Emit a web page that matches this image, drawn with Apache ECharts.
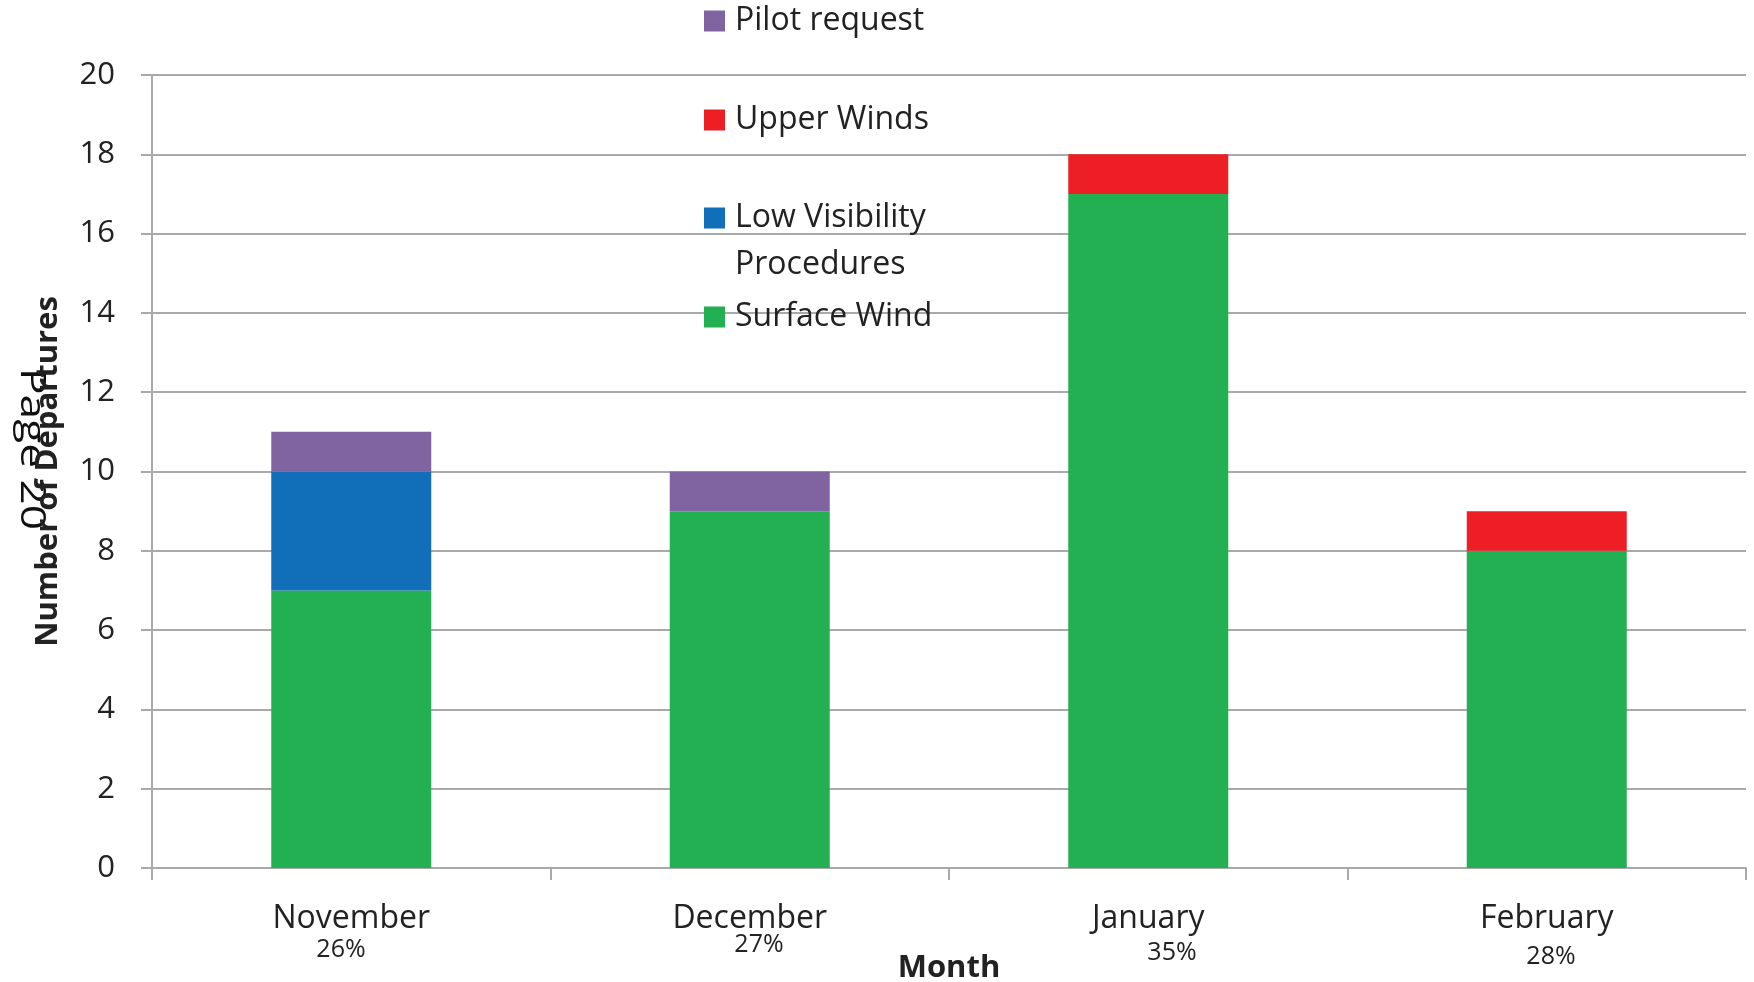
<!DOCTYPE html>
<html>
<head>
<meta charset="utf-8">
<script src="https://cdn.jsdelivr.net/npm/echarts@6/dist/echarts.min.js"></script>
<style>
html,body{margin:0;padding:0;background:#fff;}
#chart{width:1754px;height:982px;}
</style>
</head>
<body>
<div id="chart"></div>
<script>
const categories = ['November', 'December', 'January', 'February'];
const surfaceWind = [7, 9, 17, 8];
const lowVisibility = [3, 0, 0, 0];
const upperWinds = [0, 0, 1, 1];
const pilotRequest = [1, 1, 0, 0];
const percentLabels = ['26%', '27%', '35%', '28%'];
const yMin = 0, yMax = 20, yInterval = 2;

const FONT = 'Open Sans';
const TXT = '#222222';
const GRID = '#a9a9a9';

const chart = echarts.init(document.getElementById('chart'));

function legendItem(name, top, label) {
  return {
    data: [name],
    top: top,
    left: 704,
    orient: 'vertical',
    padding: 0,
    itemWidth: 21,
    itemHeight: 21,
    icon: 'rect',
    selectedMode: false,
    formatter: label ? function () { return label; } : undefined,
    textStyle: { fontSize: 32, color: TXT, fontFamily: FONT, padding: [0, 0, 0, 5], lineHeight: 32 }
  };
}

const pctPos = [[341, 950], [759, 945], [1172, 953], [1551, 957]];

const option = {
  animation: false,
  backgroundColor: '#ffffff',
  grid: { left: 152, right: 8, top: 75, bottom: 114, containLabel: false, outerBoundsMode: 'none' },
  legend: [
    legendItem('Pilot request', 5),
    legendItem('Upper Winds', 104),
    legendItem('Low Visibility Procedures', 202, 'Low Visibility'),
    legendItem('Surface Wind', 301)
  ],
  xAxis: {
    type: 'category',
    data: categories,
    boundaryGap: true,
    axisLine: { lineStyle: { color: GRID, width: 2 } },
    axisTick: { show: true, length: 12, lineStyle: { color: GRID, width: 2 } },
    axisLabel: { fontSize: 32, color: TXT, fontFamily: FONT, margin: 35 },
    name: 'Month',
    nameLocation: 'middle',
    nameGap: 85,
    nameTextStyle: { fontSize: 31, fontWeight: 'bold', color: TXT, fontFamily: FONT }
  },
  yAxis: {
    type: 'value',
    min: yMin,
    max: yMax,
    interval: yInterval,
    axisLine: { show: true, lineStyle: { color: GRID, width: 2 } },
    axisTick: { show: true, length: 11, lineStyle: { color: GRID, width: 2 } },
    splitLine: { lineStyle: { color: GRID, width: 2 } },
    axisLabel: { fontSize: 31, color: TXT, fontFamily: FONT, margin: 37 },
    name: 'Number of Departures',
    nameLocation: 'middle',
    nameGap: 88,
    nameTextStyle: { fontSize: 31, fontWeight: 'bold', color: TXT, fontFamily: FONT }
  },
  series: [
    { name: 'Surface Wind', type: 'bar', stack: 'total', barWidth: 160, data: surfaceWind, itemStyle: { color: '#23b052' } },
    { name: 'Low Visibility Procedures', type: 'bar', stack: 'total', barWidth: 160, data: lowVisibility, itemStyle: { color: '#116eb8' } },
    { name: 'Upper Winds', type: 'bar', stack: 'total', barWidth: 160, data: upperWinds, itemStyle: { color: '#ed1f24' } },
    { name: 'Pilot request', type: 'bar', stack: 'total', barWidth: 160, data: pilotRequest, itemStyle: { color: '#8064a2' } }
  ],
  graphic: [
    {
      type: 'text', x: 735, y: 265, silent: true,
      style: { text: 'Procedures', fontSize: 32, fill: TXT, fontFamily: FONT, verticalAlign: 'middle' }
    },
    {
      type: 'text', x: 31, y: 449, rotation: -Math.PI / 2, scaleX: 1.3, silent: true,
      style: { text: 'Page 20', fontSize: 34, fill: '#111', fontFamily: FONT, align: 'center', verticalAlign: 'middle' }
    }
  ].concat(percentLabels.map(function (t, i) {
    return {
      type: 'text', x: pctPos[i][0], y: pctPos[i][1], silent: true,
      style: { text: t, fontSize: 25, fill: TXT, fontFamily: FONT, align: 'center', verticalAlign: 'middle' }
    };
  }))
};
chart.setOption(option);
</script>
</body>
</html>
